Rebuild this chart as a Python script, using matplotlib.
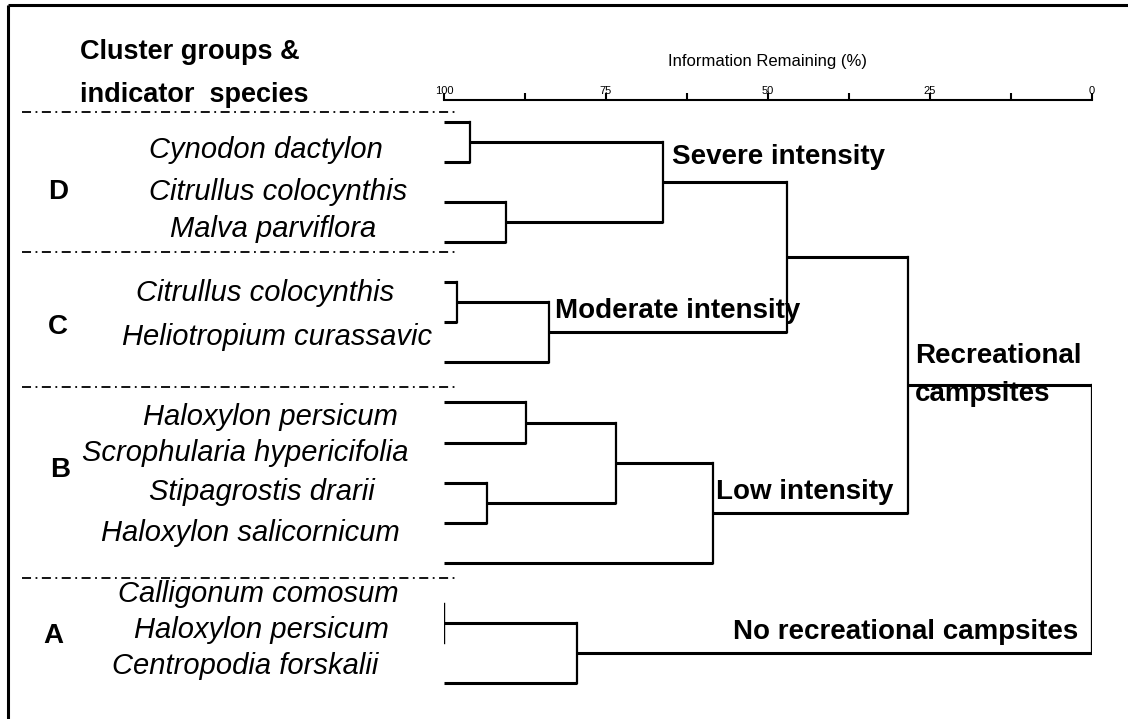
import matplotlib
matplotlib.use("Agg")
import matplotlib.pyplot as plt
from matplotlib.ticker import MultipleLocator

plt.rcParams['font.family'] = ['Liberation Sans', 'DejaVu Sans']

# Dendrogram: 15 leaves (0..14, top to bottom); new nodes get ids 15, 16, ...
# each merge joins two nodes at a level of "information remaining (%)"
merge_a = [0, 2, 15, 4, 18, 17, 7, 9, 21, 23, 20, 12, 26, 25]
merge_b = [1, 3, 16, 5, 6, 19, 8, 10, 22, 11, 24, 13, 14, 27]
merge_h = [96.0, 90.4, 66.2, 98.0, 83.8, 47.1, 87.3, 93.4, 73.5, 58.5, 28.4, 100.0, 79.5, 0.0]
n_leaves = 15

# cluster group letters and indicator species
groups = ["D", "C", "B", "A"]
species = ["Cynodon dactylon", "Citrullus colocynthis", "Malva parviflora",
           "Citrullus colocynthis", "Heliotropium curassavic",
           "Haloxylon persicum", "Scrophularia hypericifolia", "Stipagrostis drarii",
           "Haloxylon salicornicum",
           "Calligonum comosum", "Haloxylon persicum", "Centropodia forskalii"]
node_labels = ["Severe intensity", "Moderate intensity", "Low intensity",
               "Recreational", "campsites", "No recreational campsites"]

# layout (figure pixels)
W, H = 1128, 719
group_xy = [(58, 192), (58, 327), (60, 470), (53, 636)]
species_xy = [(266, 150), (278, 192), (273, 229),
              (265, 293), (277, 337),
              (270, 417), (245, 453), (262, 492), (250, 533),
              (258, 594), (261, 630), (245, 666)]
sep_y = [112, 252, 387, 578]

fig = plt.figure(figsize=(W / 100, H / 100), dpi=100)

# background layer in pixel units for text & decorations
bg = fig.add_axes([0, 0, 1, 1])
bg.set_xlim(0, W)
bg.set_ylim(H, 0)
bg.axis("off")

# frame (left and top edges)
bg.plot([8, 8], [5, H], color="black", lw=2.2, solid_capstyle="butt")
bg.plot([8, W], [5, 5], color="black", lw=2.2, solid_capstyle="butt")

bg.text(80, 52, "Cluster groups &", fontsize=19.5, fontweight="bold", va="center")
bg.text(80, 95, "indicator  species", fontsize=19.5, fontweight="bold", va="center")

for y in sep_y:
    bg.plot([22, 455], [y, y], color="black", lw=1.3, dashes=(5, 2.5, 1, 2.5))

for g, (x, y) in zip(groups, group_xy):
    bg.text(x, y, g, fontsize=20, fontweight="bold", ha="center", va="center")

for s, (x, y) in zip(species, species_xy):
    bg.text(x, y, s, fontsize=21, style="italic", ha="center", va="center")

bg.text(672, 157, node_labels[0], fontsize=20, fontweight="bold", va="center")
bg.text(555, 311, node_labels[1], fontsize=20, fontweight="bold", va="center")
bg.text(716, 492, node_labels[2], fontsize=20, fontweight="bold", va="center")
bg.text(915, 356, node_labels[3], fontsize=20, fontweight="bold", va="center")
bg.text(915, 394, node_labels[4], fontsize=20, fontweight="bold", va="center")
bg.text(1078, 632, node_labels[5], fontsize=20, fontweight="bold", va="center", ha="right")

# dendrogram axes: 100 -> x=444px, 0 -> x=1092px; leaf i at y=122+40.07*i px
x0, x1 = 444, 1092
top_px = 100
step = 40.07
ax = fig.add_axes([x0 / W, 0, (x1 - x0) / W, (H - top_px) / H])
ax.set_facecolor("none")
ax.set_xlim(100, 0)
ax.set_ylim((H - 122) / step, (top_px - 122) / step)

pos = {i: (float(i), 100.0) for i in range(n_leaves)}
for k, (a, b, h) in enumerate(zip(merge_a, merge_b, merge_h)):
    ya, ha = pos[a]
    yb, hb = pos[b]
    ax.plot([ha, h], [ya, ya], color="black", lw=2.2, solid_capstyle="butt")
    ax.plot([hb, h], [yb, yb], color="black", lw=2.2, solid_capstyle="butt")
    ax.plot([h, h], [ya, yb], color="black", lw=1.6 if h < 100 else 1.0,
            solid_capstyle="projecting")
    pos[n_leaves + k] = ((ya + yb) / 2, h)

for side in ["left", "right", "bottom"]:
    ax.spines[side].set_visible(False)
ax.spines["top"].set_linewidth(1.5)
ax.xaxis.set_ticks_position("top")
ax.xaxis.set_label_position("top")
ax.xaxis.set_major_locator(MultipleLocator(25))
ax.xaxis.set_minor_locator(MultipleLocator(12.5))
ax.tick_params(axis="x", which="both", direction="out", length=5, width=1.5, pad=-2,
               labelsize=8)
for lab in ax.get_xticklabels():
    lab.set_fontstretch("condensed")
ax.set_yticks([])
ax.set_xlabel("Information Remaining (%)", fontsize=12, labelpad=14,
              fontstretch="condensed")

fig.savefig("out.png", dpi=100)
